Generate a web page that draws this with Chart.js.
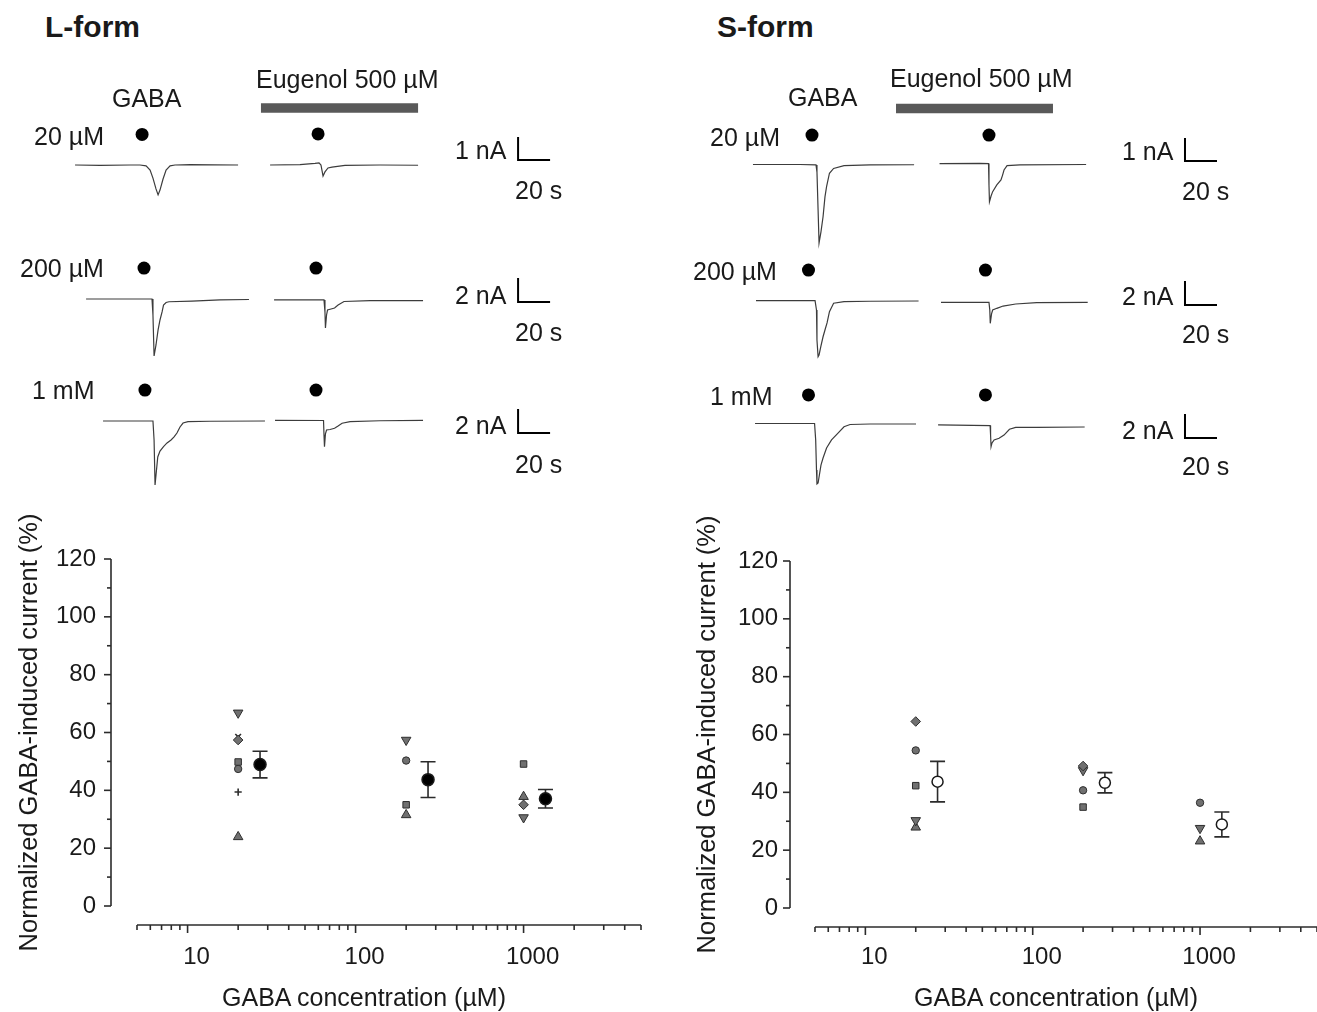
<!DOCTYPE html>
<html>
<head>
<meta charset="utf-8">
<script src="https://cdn.jsdelivr.net/npm/chart.js@4.4.0/dist/chart.umd.min.js"></script>
<style>
  html, body { margin: 0; padding: 0; background: #fff; }
  #fig { position: relative; width: 1317px; height: 1012px; overflow: hidden;
         font-family: 'Liberation Sans', Arial, Helvetica, sans-serif; color: #1a1a1a; }
  #fig canvas { position: absolute; }
  .lbl { position: absolute; font-size: 25px; line-height: 1; white-space: nowrap;
         transform: translateY(-50%); z-index: 2; }
  .ttl { font-size: 30px; font-weight: bold; }
  .ctr { transform: translate(-50%, -50%); }
</style>
</head>
<body>
<div id="fig">
  <!-- trace canvases -->
  <canvas id="l1" width="660" height="155" style="left:0;top:60px"></canvas>
  <canvas id="l2" width="660" height="132" style="left:0;top:240px"></canvas>
  <canvas id="l3" width="660" height="128" style="left:0;top:372px"></canvas>
  <canvas id="r1" width="657" height="190" style="left:660px;top:60px"></canvas>
  <canvas id="r2" width="657" height="122" style="left:660px;top:250px"></canvas>
  <canvas id="r3" width="657" height="128" style="left:660px;top:372px"></canvas>
  <!-- summary plots -->
  <canvas id="lPlot" width="660" height="507" style="left:0;top:505px"></canvas>
  <canvas id="sPlot" width="657" height="507" style="left:660px;top:505px"></canvas>

  <!-- L-form labels -->
  <div class="lbl ttl" style="left:45px;top:27px">L-form</div>
  <div class="lbl" style="left:112px;top:98px">GABA</div>
  <div class="lbl" style="left:256px;top:79px">Eugenol 500 µM</div>
  <div class="lbl" style="left:34px;top:136px">20 µM</div>
  <div class="lbl" style="left:455px;top:150px">1 nA</div>
  <div class="lbl" style="left:515px;top:190px">20 s</div>
  <div class="lbl" style="left:20px;top:268px">200 µM</div>
  <div class="lbl" style="left:455px;top:295px">2 nA</div>
  <div class="lbl" style="left:515px;top:332px">20 s</div>
  <div class="lbl" style="left:32px;top:390px">1 mM</div>
  <div class="lbl" style="left:455px;top:425px">2 nA</div>
  <div class="lbl" style="left:515px;top:464px">20 s</div>
  <div class="lbl ctr" style="left:364px;top:997px">GABA concentration (µM)</div>

  <!-- S-form labels -->
  <div class="lbl ttl" style="left:717px;top:27px">S-form</div>
  <div class="lbl" style="left:788px;top:97px">GABA</div>
  <div class="lbl" style="left:890px;top:78px">Eugenol 500 µM</div>
  <div class="lbl" style="left:710px;top:137px">20 µM</div>
  <div class="lbl" style="left:1122px;top:151px">1 nA</div>
  <div class="lbl" style="left:1182px;top:191px">20 s</div>
  <div class="lbl" style="left:693px;top:271px">200 µM</div>
  <div class="lbl" style="left:1122px;top:296px">2 nA</div>
  <div class="lbl" style="left:1182px;top:334px">20 s</div>
  <div class="lbl" style="left:710px;top:396px">1 mM</div>
  <div class="lbl" style="left:1122px;top:430px">2 nA</div>
  <div class="lbl" style="left:1182px;top:466px">20 s</div>
  <div class="lbl ctr" style="left:1056px;top:997px">GABA concentration (µM)</div>
</div>

<script>
// ---------- current traces: [time (s), current (nA)], 0 = holding baseline ----------
// L-form
const l20Ctrl = [[46.9,0],[62.5,-0.02],[81.3,0],[87.5,0],[91.3,-0.04],[93.8,-0.22],[95.6,-0.57],[97.5,-1.04],[98.8,-1.3],[100,-1.09],[101.9,-0.61],[103.8,-0.22],[106.3,-0.04],[109.4,0],[118.8,0.02],[148.8,0]];
const l20Eug = [[168.8,0],[187.5,0.02],[196.9,0.07],[199.4,0.09],[200.6,0],[201.3,-0.26],[201.9,-0.48],[203.1,-0.3],[205,-0.13],[207.5,-0.09],[215.6,-0.02],[237.5,0],[261.3,-0.01]];
const l200Ctrl = [[53.8,0],[95,0],[95.6,-1.33],[96.3,-4.75],[97.5,-3.83],[98.8,-2.58],[100,-1.75],[101.3,-1.08],[102.2,-0.5],[103.8,-0.29],[105.6,-0.23],[120,-0.17],[137.5,-0.08],[155.6,-0.04]];
const l200Eug = [[171.3,-0.08],[202.5,-0.08],[203.1,-1.08],[203.4,-2.42],[204.1,-1.33],[204.7,-0.92],[206.9,-0.83],[209.1,-0.75],[211.3,-0.5],[215,-0.21],[231.3,-0.13],[264.4,-0.13]];
const l1mCtrl = [[64.4,0],[95.6,0],[96.3,-1.58],[96.9,-5.33],[98.6,-3],[100,-2.5],[102.2,-2.14],[104.4,-1.83],[106.9,-1.58],[108.8,-1.33],[110.6,-1],[112.5,-0.5],[114.4,-0.17],[117.5,-0.06],[131.3,-0.02],[165.6,0]];
const l1mEug = [[171.9,0.06],[202.2,0.04],[202.5,-1.17],[202.8,-2.14],[203.4,-1.08],[204.1,-0.75],[206.3,-0.71],[209.1,-0.61],[211.3,-0.42],[213.8,-0.19],[218.8,-0.06],[237.5,0.02],[264.4,0.06]];
const lDots20 = [[88.8,1.33],[198.8,1.35]];
const lDots200 = [[90,2.58],[197.5,2.58]];
const lDots1m = [[90.6,2.58],[197.5,2.58]];
const lEugenol = [[163.1,2.48],[261.3,2.48]];
const lScale20 = [323.8,0.22];
const lScale200 = [323.8,-0.25];
const lScale1m = [323.8,-1.0];

// S-form
const s20Ctrl = [[58.1,0],[87.5,0],[97.5,-0.02],[98.1,-0.33],[98.8,-1.98],[99.4,-3.41],[100.6,-2.93],[101.9,-2.27],[103.1,-1.41],[104.1,-0.96],[105.9,-0.38],[108.5,-0.17],[115,-0.05],[131.3,-0.02],[158.8,-0.01]];
const s20Eug = [[174.7,0.04],[200,0.05],[205.3,0.04],[205.6,-0.89],[205.9,-1.62],[206.9,-1.37],[207.9,-1.18],[210.5,-0.89],[213.1,-0.67],[214.1,-0.46],[215,-0.24],[216.9,-0.05],[225,-0.02],[266.3,0]];
const s200Ctrl = [[60,0.03],[96.9,0.03],[97.8,-0.75],[98.1,-3.25],[98.8,-4.64],[99.4,-4.5],[100.6,-3.75],[101.9,-2.98],[103.1,-2.42],[104.4,-1.83],[105.9,-0.89],[108.5,-0.19],[115,-0.06],[131.3,-0.02],[161.6,0]];
const s200Eug = [[175.6,-0.11],[205.6,-0.11],[206.1,-0.75],[206.4,-1.86],[207.2,-1.08],[207.9,-0.75],[210.5,-0.61],[214.4,-0.42],[222.3,-0.25],[235.4,-0.14],[267.3,-0.11]];
const s1mCtrl = [[59.4,0.04],[96.6,0.04],[97.3,-1.33],[97.8,-3.83],[98.1,-5.0],[98.8,-4.92],[100.6,-3.42],[101.9,-2.83],[104.1,-2.0],[107.2,-1.33],[111.1,-0.78],[115,-0.23],[118.8,-0.04],[131.3,0],[160,0]];
const s1mEug = [[173.8,-0.08],[206.3,-0.13],[206.6,-0.92],[206.9,-1.89],[207.5,-1.58],[208.8,-1.33],[211.9,-1.19],[215,-0.92],[218.4,-0.44],[222.3,-0.28],[235.4,-0.28],[265.4,-0.25]];
const sDots20 = [[95,1.28],[205.6,1.28]];
const sDots200 = [[92.8,2.58],[203.4,2.58]];
const sDots1m = [[92.8,2.42],[203.4,2.42]];
const sEugenol = [[147.5,2.43],[245.6,2.43]];
const sScale20 = [328.1,0.15];
const sScale200 = [328.1,-0.33];
const sScale1m = [328.1,-1.17];

// ---------- normalized current (% of control) ----------
const gabaConc = [20, 200, 1000];
const meanConc = [27, 270, 1350];
// L-form, one array per cell (null = not tested)
const lDownTri = [66.8, 57.4, 30.6];
const lCross = [58.5, null, null];
const lDiamond = [57.4, null, 35.0];
const lSquare = [49.8, 35.0, 49.1];
const lCircle = [47.4, 50.3, null];
const lPlus = [39.4, null, null];
const lUpTri = [23.9, 31.5, 37.8];
const lMean = [48.9, 43.7, 37.1];
const lSem = [4.6, 6.2, 3.2];
// S-form
const sDiamond = [64.5, 49.1, null];
const sCircle = [54.5, 40.7, 36.4];
const sSquare = [42.3, 34.9, null];
const sDownTri = [30.3, 47.6, 27.6];
const sUpTri = [27.9, null, 23.1];
const sMean = [43.7, 43.3, 28.9];
const sSem = [7.0, 3.5, 4.3];

// axis ticks
const xRange = [5, 5000];
const yRange = [0, 120];
const xMajorTicks = [10, 100, 1000];
const xMinorTicks = [5,6,7,8,9,20,30,40,50,60,70,80,90,200,300,400,500,600,700,800,900,2000,3000,4000,5000];
const yMajorTicks = [0, 20, 40, 60, 80, 100, 120];
const yMinorTicks = [10, 30, 50, 70, 90, 110];

// ---------------------------------------------------------------
const INK = '#1a1a1a';
Chart.defaults.font.family = "'Liberation Sans', Arial, Helvetica, sans-serif";
Chart.defaults.color = INK;
Chart.defaults.animation = false;

const pts = arr => arr.map(p => ({ x: p[0], y: p[1] }));

// Scale bar: vertical amp (nA) then 20 s horizontal, corner at [t, I]
const scaleBar = (corner, amp) => [
    { x: corner[0], y: corner[1] + amp },
    { x: corner[0], y: corner[1] },
    { x: corner[0] + 20, y: corner[1] }
];

// Trace charts
function traceChart(id, cfg) {
    const line = (data, w, color) => ({
        data: data, borderColor: color, borderWidth: w, pointRadius: 0,
        tension: 0, fill: false, borderCapStyle: 'butt'
    });
    const datasets = [
        line(pts(cfg.ctrl), 1.2, '#3c3c3c'),
        line(pts(cfg.eug), 1.2, '#3c3c3c'),
        { data: pts(cfg.dots), showLine: false, pointRadius: 6.5,
          pointBackgroundColor: '#000', pointBorderWidth: 0 },
        line(scaleBar(cfg.scale, cfg.amp), 2, '#000')
    ];
    if (cfg.eugenol) {
        datasets.push(line(pts(cfg.eugenol), 9.5, '#595959'));
    }

    return new Chart(document.getElementById(id), {
        type: 'line',
        data: { datasets: datasets },
        options: {
            responsive: false,
            animation: false,
            events: [],
            layout: { padding: 0, autoPadding: false },
            plugins: { legend: { display: false }, tooltip: { enabled: false } },
            scales: {
                x: { type: 'linear', display: false, min: 0, max: cfg.tMax },
                y: { type: 'linear', display: false, min: cfg.yMin, max: cfg.yMax }
            }
        }
    });
}

traceChart('l1', { ctrl: l20Ctrl, eug: l20Eug, dots: lDots20, scale: lScale20, amp: 1, eugenol: lEugenol, tMax: 412.5, yMin: -2.174, yMax: 4.565 });
traceChart('l2', { ctrl: l200Ctrl, eug: l200Eug, dots: lDots200, scale: lScale200, amp: 2, tMax: 412.5, yMin: -6.083, yMax: 4.917 });
traceChart('l3', { ctrl: l1mCtrl, eug: l1mEug, dots: lDots1m, scale: lScale1m, amp: 2, tMax: 412.5, yMin: -6.583, yMax: 4.083 });
traceChart('r1', { ctrl: s20Ctrl, eug: s20Eug, dots: sDots20, scale: sScale20, amp: 1, eugenol: sEugenol, tMax: 410.6, yMin: -3.717, yMax: 4.543 });
traceChart('r2', { ctrl: s200Ctrl, eug: s200Eug, dots: sDots200, scale: sScale200, amp: 2, tMax: 410.6, yMin: -5.917, yMax: 4.25 });
traceChart('r3', { ctrl: s1mCtrl, eug: s1mEug, dots: sDots1m, scale: sScale1m, amp: 2, tMax: 410.6, yMin: -6.333, yMax: 4.333 });

// Axis lines offset from the data area (drawn from the scales)
const offsetAxes = {
    id: 'offsetAxes',
    afterDraw(chart, args, opts) {
        const ctx = chart.ctx;
        const xs = chart.scales.x, ys = chart.scales.y;
        const ax = chart.chartArea.left - opts.yGap;
        const ay = ys.getPixelForValue(yRange[0]) + opts.xGap;
        const seg = (x1, y1, x2, y2) => { ctx.beginPath(); ctx.moveTo(x1, y1); ctx.lineTo(x2, y2); ctx.stroke(); };
        ctx.save();
        ctx.strokeStyle = '#2b2b2b';
        ctx.lineWidth = 1.6;
        seg(ax, ys.getPixelForValue(yRange[0]), ax, ys.getPixelForValue(yRange[1]));
        yMajorTicks.forEach(v => { const p = ys.getPixelForValue(v); seg(ax - 7, p, ax, p); });
        yMinorTicks.forEach(v => { const p = ys.getPixelForValue(v); seg(ax - 4, p, ax, p); });
        seg(xs.getPixelForValue(xRange[0]), ay, xs.getPixelForValue(xRange[1]), ay);
        xMajorTicks.forEach(v => { const p = xs.getPixelForValue(v); seg(p, ay, p, ay + 8); });
        xMinorTicks.forEach(v => { const p = xs.getPixelForValue(v); seg(p, ay, p, ay + 5); });
        ctx.restore();
    }
};

// Mean +/- SEM bars
const errorBars = {
    id: 'errorBars',
    beforeDatasetsDraw(chart) {
        const ctx = chart.ctx;
        const xs = chart.scales.x, ys = chart.scales.y;
        ctx.save();
        ctx.strokeStyle = '#2b2b2b';
        ctx.lineWidth = 1.6;
        chart.data.datasets.forEach(ds => {
            if (!ds.errorBars) return;
            ds.data.forEach((p, i) => {
                const px = xs.getPixelForValue(p.x);
                const hi = ys.getPixelForValue(p.y + ds.errorBars[i]);
                const lo = ys.getPixelForValue(p.y - ds.errorBars[i]);
                ctx.beginPath();
                ctx.moveTo(px, hi); ctx.lineTo(px, lo);
                ctx.moveTo(px - 7.5, hi); ctx.lineTo(px + 7.5, hi);
                ctx.moveTo(px - 7.5, lo); ctx.lineTo(px + 7.5, lo);
                ctx.stroke();
            });
        });
        ctx.restore();
    }
};

const markerStyles = {
    downTri: { pointStyle: 'triangle', rotation: 180, pointRadius: 5.5, borderWidth: 1 },
    upTri:   { pointStyle: 'triangle', rotation: 0, pointRadius: 5.5, borderWidth: 1 },
    square:  { pointStyle: 'rect', rotation: 0, pointRadius: 4.6, borderWidth: 1 },
    circle:  { pointStyle: 'circle', rotation: 0, pointRadius: 3.7, borderWidth: 1 },
    diamond: { pointStyle: 'rectRot', rotation: 0, pointRadius: 4.8, borderWidth: 1 },
    cross:   { pointStyle: 'crossRot', rotation: 0, pointRadius: 4, borderWidth: 1.6 },
    plus:    { pointStyle: 'cross', rotation: 0, pointRadius: 3.6, borderWidth: 1.6 }
};

function cellDataset(values, style) {
    const m = markerStyles[style];
    return {
        data: gabaConc.map((c, i) => values[i] == null ? null : { x: c, y: values[i] }).filter(Boolean),
        showLine: false,
        pointStyle: m.pointStyle,
        rotation: m.rotation,
        pointRadius: m.pointRadius,
        pointBackgroundColor: '#707070',
        pointBorderColor: '#2e2e2e',
        pointBorderWidth: m.borderWidth,
        clip: false
    };
}

function summaryChart(id, cells, mean, sem, meanFill, box) {
    const datasets = cells.map(c => cellDataset(c[0], c[1]));
    datasets.push({
        data: meanConc.map((x, i) => ({ x: x, y: mean[i] })),
        errorBars: sem,
        showLine: false,
        pointStyle: 'circle',
        pointRadius: box.meanRadius,
        pointBackgroundColor: meanFill,
        pointBorderColor: '#1a1a1a',
        pointBorderWidth: 1.5,
        clip: false
    });

    return new Chart(document.getElementById(id), {
        type: 'scatter',
        data: { datasets: datasets },
        plugins: [offsetAxes, errorBars],
        options: {
            responsive: false,
            animation: false,
            events: [],
            layout: { padding: { left: 0, top: box.padTop, right: box.padRight, bottom: 0 }, autoPadding: false },
            plugins: {
                legend: { display: false },
                tooltip: { enabled: false },
                offsetAxes: { yGap: box.yGap, xGap: box.xGap }
            },
            scales: {
                x: {
                    type: 'logarithmic',
                    min: xRange[0], max: xRange[1],
                    afterBuildTicks: axis => { axis.ticks = xMajorTicks.map(v => ({ value: v })); },
                    afterFit: s => { s.height = box.xAxisH; },
                    grid: { display: false, drawTicks: false },
                    border: { display: false },
                    ticks: {
                        autoSkip: false, maxRotation: 0,
                        padding: box.xPad, labelOffset: 9,
                        font: { size: 24 }, color: INK,
                        callback: v => String(v)
                    }
                },
                y: {
                    type: 'linear',
                    min: yRange[0], max: yRange[1],
                    afterFit: s => { s.width = box.yAxisW; },
                    // invisible tick marks keep the labels away from the offset spine
                    grid: { display: true, drawOnChartArea: false, drawTicks: true,
                            tickLength: box.yPad, color: 'rgba(0,0,0,0)' },
                    border: { display: false },
                    ticks: { stepSize: 20, padding: 0, font: { size: 24 }, color: INK },
                    title: {
                        display: true,
                        text: 'Normalized GABA-induced current (%)',
                        font: { size: 25.5 }, color: INK,
                        padding: { top: box.titlePad, bottom: 0 }
                    }
                }
            }
        }
    });
}

summaryChart('lPlot',
    [[lDownTri, 'downTri'], [lDiamond, 'diamond'], [lCross, 'cross'], [lSquare, 'square'],
     [lCircle, 'circle'], [lPlus, 'plus'], [lUpTri, 'upTri']],
    lMean, lSem, '#000',
    { padTop: 54, padRight: 19, xAxisH: 106, yAxisW: 137, yGap: 26, xGap: 19, xPad: 37, yPad: 41, titlePad: 15, meanRadius: 6 });

summaryChart('sPlot',
    [[sDiamond, 'diamond'], [sCircle, 'circle'], [sSquare, 'square'],
     [sDownTri, 'downTri'], [sUpTri, 'upTri']],
    sMean, sSem, '#fff',
    { padTop: 56, padRight: 0, xAxisH: 104, yAxisW: 155, yGap: 25, xGap: 19, xPad: 35, yPad: 37, titlePad: 33, meanRadius: 5.5 });
</script>
</body>
</html>
